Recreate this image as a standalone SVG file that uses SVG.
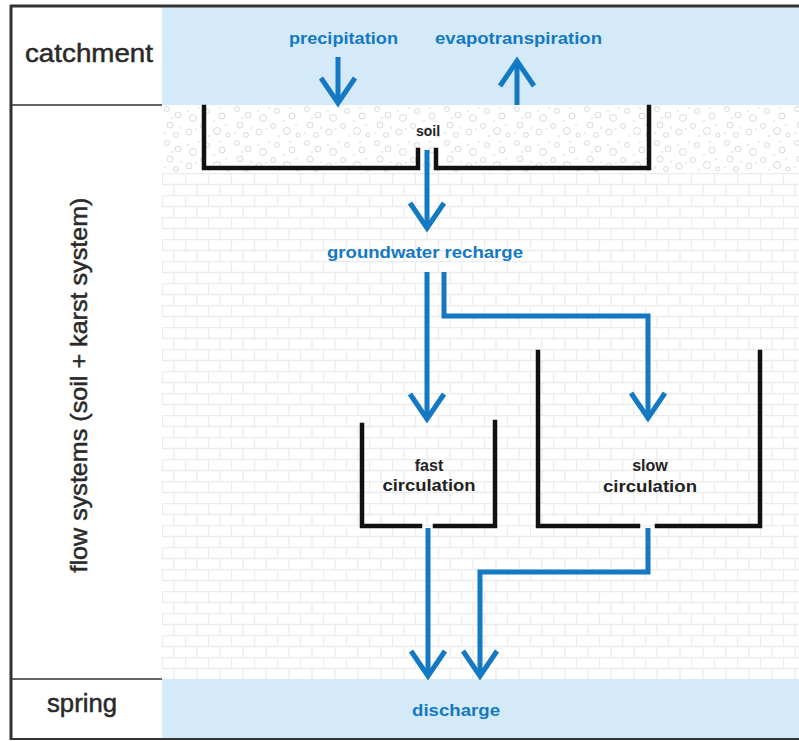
<svg xmlns="http://www.w3.org/2000/svg" width="799" height="741" viewBox="0 0 799 741">
<defs>
<style>
.band{fill:#d5eaf8}
.rowlab{font-family:"Liberation Sans",Arial,sans-serif;font-size:25px;fill:#2a2a2a;stroke:#2a2a2a;stroke-width:0.5}
.blue{font-family:"Liberation Sans",Arial,sans-serif;font-weight:bold;font-size:17px;fill:#1479c4}
.lab{font-family:"Liberation Sans",Arial,sans-serif;font-weight:bold;font-size:16px;fill:#222;text-anchor:middle}
.wall{fill:none;stroke:#111;stroke-width:4.5;stroke-linecap:square;stroke-linejoin:miter}
.flow{fill:none;stroke:#1479c4;stroke-width:5;stroke-linejoin:miter;marker-end:url(#head)}
.frame{stroke:#333;fill:none}
</style>
<pattern id="brick" width="23" height="22" patternUnits="userSpaceOnUse" x="162" y="173">
<rect width="23" height="22" fill="#fff"/>
<path d="M0,0.5H23M0,11.5H23M0.5,0V11M12,11V22" stroke="#ececec" stroke-width="1.3" fill="none"/>
</pattern>
<pattern id="stipple" width="70" height="34" patternUnits="userSpaceOnUse" x="162" y="105">
<rect width="70" height="34" fill="#fff"/>
<g fill="none" stroke="#cfcfcf" stroke-width="0.8">
<circle cx="5" cy="4" r="2.5"/><circle cx="16" cy="10" r="3"/><circle cx="31" cy="13" r="3.5"/><circle cx="45" cy="6" r="2.5"/><circle cx="60" cy="11" r="3"/><circle cx="8" cy="20" r="3"/><circle cx="27" cy="27" r="3"/><circle cx="41" cy="21" r="2.5"/><circle cx="55" cy="26" r="3.5"/><circle cx="14" cy="30" r="2.5"/><circle cx="66" cy="30" r="2"/>
</g>
<g fill="#d0d0d0">
<circle cx="10" cy="13" r="0.8"/><circle cx="19" cy="23" r="0.8"/><circle cx="26" cy="6" r="0.8"/><circle cx="37" cy="3" r="0.8"/><circle cx="47" cy="31" r="0.8"/><circle cx="52" cy="16" r="0.8"/><circle cx="64" cy="20" r="0.8"/><circle cx="3" cy="28" r="0.8"/><circle cx="34" cy="24" r="0.8"/><circle cx="58" cy="3" r="0.8"/>
</g>
</pattern>
<marker id="head" viewBox="-34 -22 44 44" markerWidth="44" markerHeight="44" refX="0" refY="0" orient="auto" markerUnits="userSpaceOnUse">
<path d="M-25,-17 L0,0 L-25,17" fill="none" stroke="#1479c4" stroke-width="5" stroke-linejoin="miter"/>
</marker>
</defs>

<rect width="799" height="741" fill="#fff"/>

<g id="background">
<rect class="band" x="162" y="7" width="637" height="98"/>
<rect x="162" y="105" width="637" height="68" fill="url(#stipple)"/>
<rect x="162" y="173" width="637" height="506" fill="url(#brick)"/>
<rect class="band" x="162" y="679" width="637" height="59"/>
<path class="frame" d="M10,6H799" stroke-width="3"/>
<path class="frame" d="M11,5V740" stroke-width="3"/>
<path class="frame" d="M10,739H799" stroke-width="2"/>
<path class="frame" d="M12,105H162M12,679H162" stroke-width="1.5"/>
</g>

<g id="catchment">
<text class="rowlab" x="25" y="62" textLength="128" lengthAdjust="spacingAndGlyphs">catchment</text>
</g>
<g id="flow-systems">
<text class="rowlab" transform="translate(87,385) rotate(-90)" text-anchor="middle" textLength="375" lengthAdjust="spacingAndGlyphs" style="font-size:24px">flow systems (soil + karst system)</text>
</g>
<g id="spring">
<text class="rowlab" x="47" y="712" textLength="70" lengthAdjust="spacingAndGlyphs">spring</text>
</g>

<g id="precipitation">
<text class="blue" x="289" y="44" textLength="109" lengthAdjust="spacingAndGlyphs">precipitation</text>
</g>
<g id="evapotranspiration">
<text class="blue" x="435" y="44" textLength="167" lengthAdjust="spacingAndGlyphs">evapotranspiration</text>
</g>

<g id="soil">
<path class="wall" d="M204,107V168H418V150M436,150V168H649V107"/>
<text class="lab" x="428" y="136" style="font-size:14px">soil</text>
</g>

<g id="groundwater-recharge">
<text class="blue" x="327" y="258" textLength="196" lengthAdjust="spacingAndGlyphs">groundwater recharge</text>
</g>

<g id="fast-circulation">
<path class="wall" d="M362,425V526H420M435,526H495V422"/>
<text class="lab" x="429" y="471">fast</text>
<text class="lab" x="429" y="491" textLength="93" lengthAdjust="spacingAndGlyphs">circulation</text>
</g>

<g id="slow-circulation">
<path class="wall" d="M538,352V526H638M657,526H760V352"/>
<text class="lab" x="650" y="471">slow</text>
<text class="lab" x="650" y="492" textLength="94" lengthAdjust="spacingAndGlyphs">circulation</text>
</g>

<g id="discharge">
<text class="blue" x="412" y="716" textLength="88" lengthAdjust="spacingAndGlyphs">discharge</text>
</g>

<g id="connectors">
<path class="flow" d="M338,57V103"/>
<path class="flow" d="M517,105V61"/>
<path class="flow" d="M427,150V228"/>
<path class="flow" d="M427,272V419"/>
<path class="flow" d="M444,272V316H648V418"/>
<path class="flow" d="M428,528V676"/>
<path class="flow" d="M648,528V572H480V676"/>
</g>
</svg>
